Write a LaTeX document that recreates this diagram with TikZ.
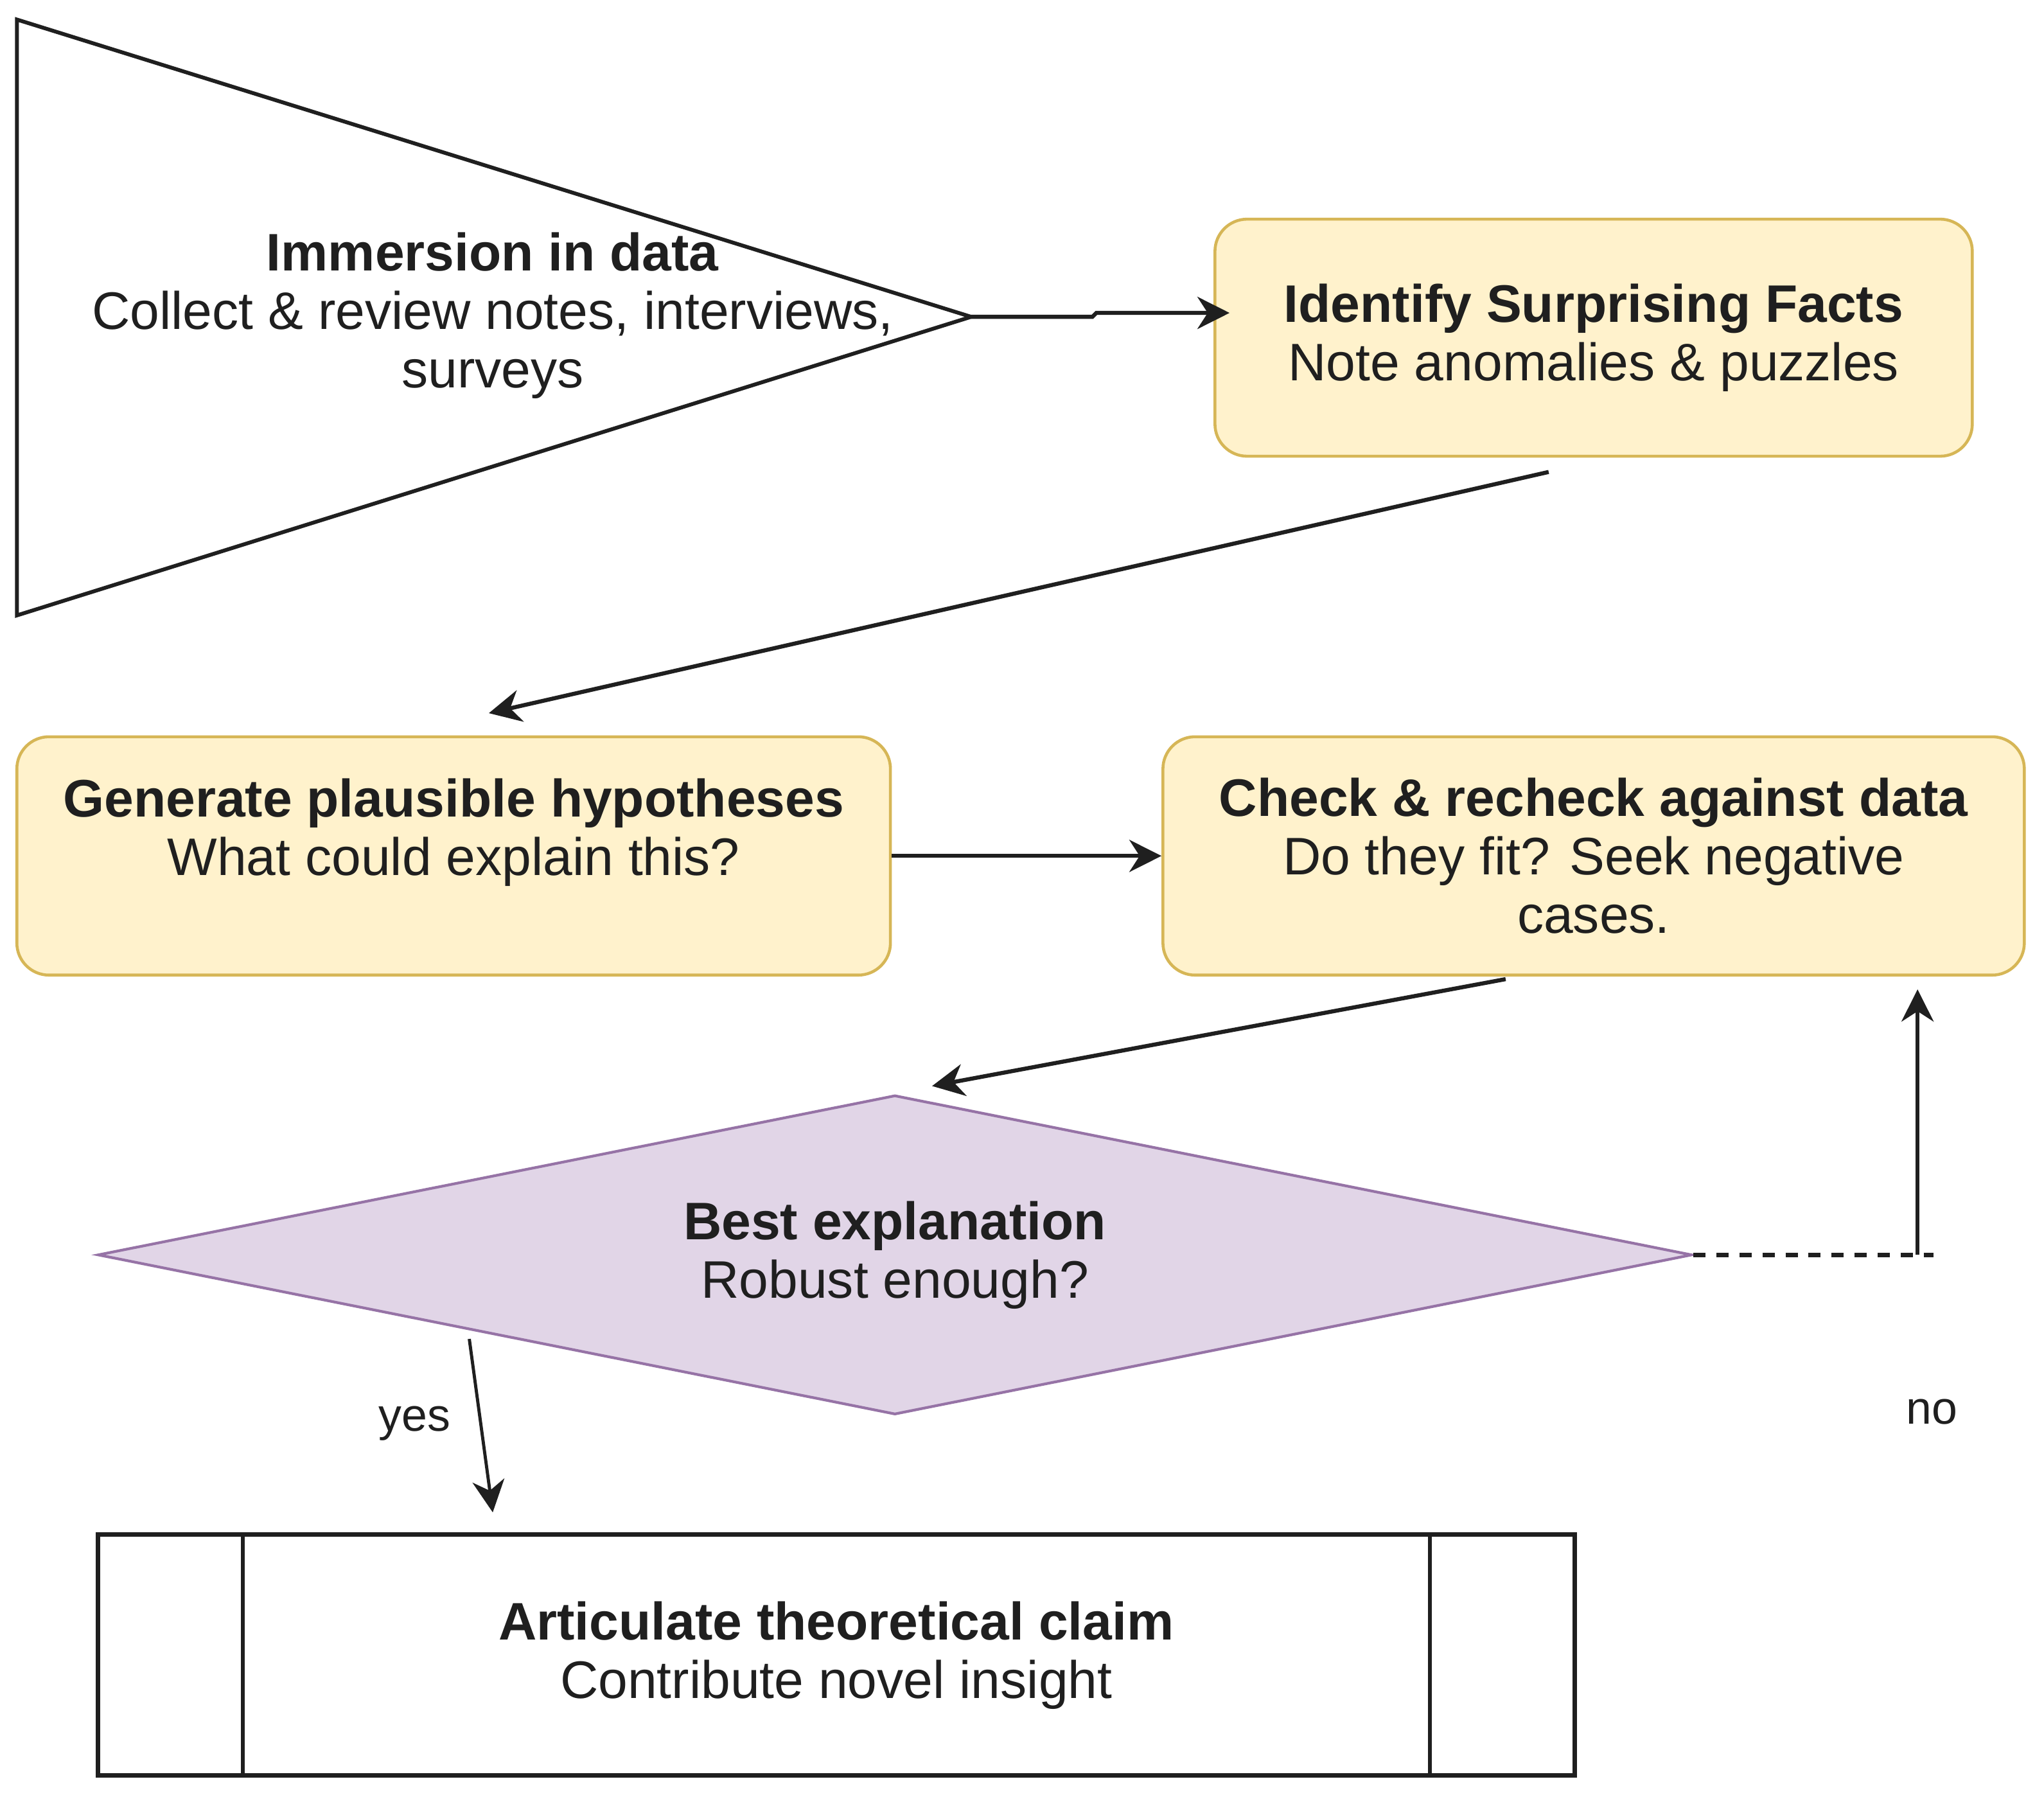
\documentclass[tikz,border=0pt]{standalone}
\usepackage{fontspec}
\setmainfont{Liberation Sans}
\usepackage{xcolor}
\usetikzlibrary{arrows.meta,shapes.geometric,calc}

\definecolor{stagefill}{HTML}{FFF2CC}
\definecolor{stageline}{HTML}{D6B656}
\definecolor{judgefill}{HTML}{E1D5E7}
\definecolor{judgeline}{HTML}{9673A6}
\definecolor{ink}{HTML}{1F1F1F}

\tikzset{
  txt/.style={text=ink, align=center, font=\fontsize{23.4}{25.9}\selectfont},
  stagebox/.style={txt, draw=stageline, fill=stagefill, line width=1.3pt, rounded corners=5mm, inner sep=0pt},
  judge/.style={txt, diamond, aspect=5, draw=judgeline, fill=judgefill, line width=1.2pt, inner sep=0pt,
    minimum width=24.82cm, minimum height=4.97cm},
  claimbox/.style={txt, rectangle, draw=ink, line width=1.9pt, inner sep=0pt,
    minimum width=22.99cm, minimum height=3.75cm},
  flow/.style={draw=ink, line width=1.8pt, -{Stealth[length=5mm,width=5mm,inset=1.6mm]}},
  lbl/.style={text=ink, font=\fontsize{20.4}{24}\selectfont},
}

\begin{document}
\begin{tikzpicture}[x=0.020293cm, y=-0.020293cm]
\useasboundingbox (0,0) rectangle (1568,1376.8);
% immersion triangle
\draw[draw=ink, line width=1.7pt, line join=miter] (13,15) -- (745,243) coordinate (apex) -- (13,472) -- cycle;
\node[txt] (immersion) at (378,242) {\textbf{Immersion in data}\\Collect \& review notes, interviews,\\surveys};
%
\node[stagebox, minimum width=11.79cm, minimum height=3.69cm] (facts) at (1222.5,259)
  {\textbf{Identify Surprising Facts}\\Note anomalies \& puzzles};
\node[stagebox, minimum width=13.60cm, minimum height=3.71cm] (hypo) at (348,656.5)
  {\textbf{Generate plausible hypotheses}\\What could explain this?\\\mbox{}};
\node[stagebox, minimum width=13.41cm, minimum height=3.71cm] (check) at (1222.5,656.5)
  {\textbf{Check \& recheck against data}\\Do they fit? Seek negative\\cases.};
%
\node[judge] (best) at (686.5,962.5) {\textbf{Best explanation}\\Robust enough?};
%
\node[claimbox] (claim) at (641.5,1269.5) {\textbf{Articulate theoretical claim}\\Contribute novel insight};
\draw[draw=ink, line width=1.7pt] ([xshift=2.29cm]claim.north west) -- ([xshift=2.29cm]claim.south west);
\draw[draw=ink, line width=1.7pt] ([xshift=-2.29cm]claim.north east) -- ([xshift=-2.29cm]claim.south east);
%
\coordinate (jog) at (841,240);
\coordinate (factsout) at (1188,362);
\coordinate (hypoin) at (375,547);
\coordinate (checkout) at (1155,751);
\coordinate (bestin) at (715,833);
\coordinate (dashend) at (1483,962.5);
\coordinate (noturn) at (1471,962.5);
\coordinate (yesout) at (360,1027);
\coordinate (claimin) at (378,1160);
%
\draw[flow] (apex) -- (838,243) -- (jog) -- ([xshift=2.5mm]jog -| facts.west);
\draw[flow] (factsout) -- (hypoin);
\draw[flow] (hypo.east) -- (check.west);
\draw[flow] (checkout) -- (bestin);
\draw[draw=ink, line width=1.9pt, dash pattern=on 5.4pt off 4.8pt] (best.east) -- (dashend);
\draw[flow] (noturn) -- ([yshift=-2mm]noturn |- check.south);
\draw[flow, line width=1.4pt] (yesout) -- (claimin);
%
\node[lbl] (yes) at (318,1092) {yes};
\node[lbl] (no) at (1482,1083) {no};
\end{tikzpicture}
\end{document}
